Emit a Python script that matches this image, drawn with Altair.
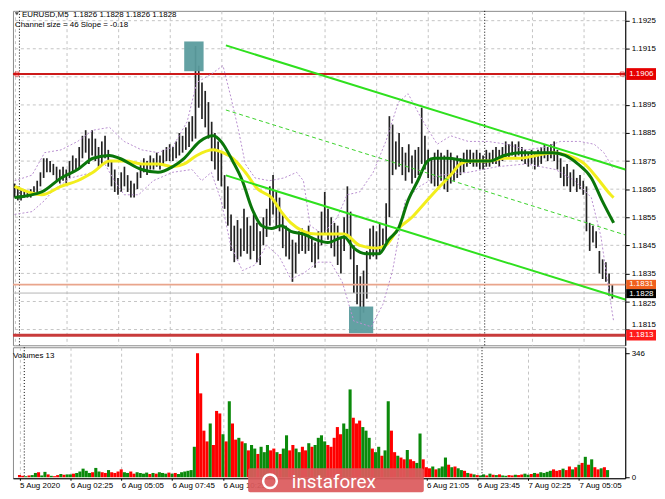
import json
import altair as alt
import pandas as pd

# ---------------- data ----------------
bar_minute = list(range(0, 1860, 10))  # 10-minute bars from 5 Aug 23:45

bar_high = [
    1.1867, 1.1866, 1.1865, 1.1865, 1.1864, 1.1865, 1.1866, 1.1868, 1.1871, 1.1876,
    1.1876, 1.1875, 1.1874, 1.1873, 1.1872, 1.1873, 1.1872, 1.1875, 1.1877, 1.1876,
    1.1880, 1.1884, 1.1886, 1.1883, 1.1886, 1.1883, 1.1880, 1.1882, 1.1884, 1.1879,
    1.1875, 1.1872, 1.1869, 1.1871, 1.1873, 1.1870, 1.1868, 1.1867, 1.1871, 1.1874,
    1.1876, 1.1875, 1.1877, 1.1876, 1.1878, 1.1877, 1.1879, 1.1880, 1.1881, 1.1880,
    1.1882, 1.1885, 1.1884, 1.1887, 1.1889, 1.1891, 1.1916, 1.1909, 1.1903, 1.1900,
    1.1896, 1.1889, 1.1885, 1.1882, 1.1878, 1.1870, 1.1866, 1.1856, 1.1852, 1.1854,
    1.1851, 1.1858, 1.1855, 1.1852, 1.1856, 1.1853, 1.1850, 1.1855, 1.1858, 1.1866,
    1.1870, 1.1864, 1.1862, 1.1856, 1.1852, 1.1850, 1.1847, 1.1846, 1.1850, 1.1851,
    1.1849, 1.1852, 1.1848, 1.1846, 1.1850, 1.1857, 1.1864, 1.1858, 1.1855, 1.1853,
    1.1852, 1.1848, 1.1855, 1.1866, 1.1857, 1.1845, 1.1838, 1.1834, 1.1836, 1.1843,
    1.1851, 1.1852, 1.1850, 1.1853, 1.1851, 1.1860, 1.1891, 1.1888, 1.1882, 1.1885,
    1.1880, 1.1878, 1.1881, 1.1877, 1.1879, 1.1880, 1.1894, 1.1884, 1.1879, 1.1876,
    1.1878, 1.1879, 1.1878, 1.1877, 1.1879, 1.1878, 1.1876, 1.1877, 1.1876, 1.1878,
    1.1879, 1.1879, 1.1878, 1.1879, 1.1878, 1.1877, 1.1879, 1.1878, 1.1879, 1.1880,
    1.1879, 1.1880, 1.1882, 1.1881, 1.1882, 1.1881, 1.1882, 1.1880, 1.1879, 1.1878,
    1.1879, 1.1878, 1.1879, 1.1880, 1.1881, 1.1880, 1.1881, 1.1882, 1.1879, 1.1876,
    1.1873, 1.1874, 1.1871, 1.1872, 1.1869, 1.1870, 1.1868, 1.1866, 1.1853, 1.1852,
    1.1850, 1.1843, 1.1840, 1.1839, 1.1835, 1.1831,
]

bar_low = [
    1.1862, 1.1861, 1.1861, 1.1862, 1.1862, 1.1862, 1.1863, 1.1864, 1.1866, 1.1869,
    1.1871, 1.1871, 1.1870, 1.1868, 1.1867, 1.1868, 1.1867, 1.1869, 1.1871, 1.1872,
    1.1872, 1.1876, 1.1878, 1.1874, 1.1877, 1.1875, 1.1873, 1.1874, 1.1876, 1.1873,
    1.1866, 1.1864, 1.1863, 1.1864, 1.1866, 1.1864, 1.1862, 1.1862, 1.1865, 1.1869,
    1.1871, 1.1870, 1.1872, 1.1872, 1.1873, 1.1872, 1.1874, 1.1875, 1.1875, 1.1875,
    1.1876, 1.1877, 1.1878, 1.1879, 1.1880, 1.1882, 1.1883, 1.1894, 1.1890, 1.1887,
    1.1883, 1.1875, 1.1872, 1.1868, 1.1866, 1.1858, 1.1852, 1.1843, 1.1839, 1.1840,
    1.1841, 1.1843, 1.1842, 1.1840, 1.1843, 1.1839, 1.1838, 1.1845, 1.1848, 1.1852,
    1.1856, 1.1851, 1.1850, 1.1844, 1.1841, 1.1840, 1.1832, 1.1835, 1.1842, 1.1843,
    1.1842, 1.1843, 1.1839, 1.1837, 1.1840, 1.1845, 1.1849, 1.1847, 1.1844, 1.1841,
    1.1838, 1.1835, 1.1843, 1.1848, 1.1840, 1.1828, 1.1824, 1.1818, 1.1821, 1.1826,
    1.1840, 1.1841, 1.1840, 1.1842, 1.1843, 1.1846, 1.1855, 1.1870, 1.1872, 1.1873,
    1.1870, 1.1868, 1.1871, 1.1867, 1.1869, 1.1870, 1.1874, 1.1872, 1.1869, 1.1867,
    1.1866, 1.1866, 1.1868, 1.1865, 1.1864, 1.1867, 1.1868, 1.1869, 1.1870, 1.1871,
    1.1873, 1.1874, 1.1873, 1.1873, 1.1872, 1.1872, 1.1873, 1.1873, 1.1874, 1.1874,
    1.1873, 1.1875, 1.1876, 1.1876, 1.1877, 1.1876, 1.1877, 1.1875, 1.1874, 1.1873,
    1.1874, 1.1872, 1.1873, 1.1874, 1.1876, 1.1875, 1.1876, 1.1875, 1.1872, 1.1869,
    1.1866, 1.1866, 1.1864, 1.1866, 1.1864, 1.1865, 1.1863, 1.1850, 1.1843, 1.1846,
    1.1844, 1.1835, 1.1833, 1.1832, 1.1827, 1.1826,
]

volumes = [
    6, 4, 3, 5, 6, 12, 14, 5, 15, 8, 4, 3, 6, 9, 7, 8,
    8, 10, 12, 16, 24, 18, 12, 14, 26, 16, 14, 12, 20, 14, 12, 16,
    22, 14, 12, 16, 10, 14, 12, 10, 13, 9, 12, 10, 14, 12, 10, 13,
    10, 12, 9, 14, 16, 18, 20,
    85, 346, 234, 130, 100, 150, 90, 185, 178, 120, 100, 212, 150, 105, 110,
    100, 95, 75, 90, 80, 65, 85, 70, 90, 75, 80, 70, 65, 80, 117, 75,
    90, 80, 70, 85, 75, 95, 85, 90, 110, 117, 100, 90, 85, 110,
    140, 120, 150, 135, 245, 166, 150, 158, 140, 130, 110, 80, 70, 85, 60, 75,
    212, 130, 70, 60, 55, 50, 76, 50, 45, 40, 122, 50,
    28, 25, 30, 22, 25, 30, 55, 35, 28, 30, 25, 20, 18, 12, 10, 8, 6, 5,
    8, 5, 10, 7, 6, 8, 5, 4, 6, 5, 7, 6, 8, 10, 7, 9,
    12, 10, 14, 12, 15, 18, 22, 18, 20, 24, 20, 30, 22, 28, 35, 40,
    57, 35, 50, 28, 22, 25, 28, 20,
]

# g = up-volume bar (green), r = down-volume bar (red)
volume_dir = list(
    "rrgrggrggr" "grrgrggrgg" "gggrggrrgr" "rrrggrrggg" "grgrgggrgr"
    "ggggggrrrr" "grrrgrgrrg" "rgrggrgggr" "rgrggrrggr" "rgrggggrrr"
    "rrgggrrrgg" "grggrggrrg" "rrgrrggrrr" "grgggrgrgg" "rgrgrggrgr"
    "grggrrgrrg" "grgrggggrr" "rgrrgrgrgr" "grrgrg"
)

ma_green_m = [0, 84, 144, 195, 243, 294, 324, 393, 444, 489, 525, 573, 615, 639, 675,
              705, 735, 765, 795, 825, 855, 894, 933, 969, 1020, 1050, 1089, 1128, 1158,
              1188, 1218, 1248, 1278, 1299, 1338, 1410, 1470, 1515, 1563, 1614, 1665,
              1704, 1743, 1785, 1818, 1854]
ma_green_p = [1.1862, 1.1864, 1.1869, 1.1872, 1.1876, 1.1877, 1.1876, 1.1872, 1.1871,
              1.1873, 1.1876, 1.1882, 1.1884, 1.1882, 1.1875, 1.1868, 1.1858, 1.1852,
              1.1851, 1.1852, 1.1850, 1.1849, 1.1847, 1.1846, 1.1848, 1.1844, 1.1842,
              1.1842, 1.1847, 1.1851, 1.1861, 1.1868, 1.1875, 1.1876, 1.1876, 1.1875,
              1.1875, 1.1877, 1.1878, 1.1878, 1.1878, 1.1877, 1.1874, 1.1869, 1.1861,
              1.1853]

ma_yellow_m = [0, 84, 144, 195, 243, 294, 345, 393, 444, 489, 525, 564, 615, 645, 675,
               714, 753, 795, 825, 855, 894, 933, 984, 1020, 1068, 1119, 1149, 1188,
               1230, 1269, 1308, 1350, 1380, 1410, 1470, 1515, 1563, 1614, 1665, 1713,
               1764, 1803, 1845, 1854]
ma_yellow_p = [1.1866, 1.1863, 1.1866, 1.1868, 1.1871, 1.1875, 1.1875, 1.1874, 1.1874,
               1.1873, 1.1874, 1.1877, 1.1879, 1.1878, 1.1876, 1.1871, 1.1865, 1.1862,
               1.1857, 1.1853, 1.1850, 1.1849, 1.1849, 1.1849, 1.1845, 1.1844, 1.1845,
               1.1851, 1.1855, 1.1860, 1.1865, 1.1870, 1.1874, 1.1875, 1.1875, 1.1876,
               1.1876, 1.1877, 1.1878, 1.1877, 1.1874, 1.1869, 1.1863, 1.1862]

env_upper_m = [0, 54, 93, 144, 195, 243, 294, 339, 393, 444, 489, 534, 564, 609, 645,
               669, 693, 714, 744, 789, 834, 873, 894, 915, 954, 999, 1029, 1068, 1110,
               1149, 1188, 1218, 1260, 1308, 1350, 1404, 1464, 1524, 1584, 1644, 1689,
               1749, 1794, 1824, 1854]
env_upper_p = [1.1868, 1.1870, 1.1878, 1.1879, 1.1882, 1.1886, 1.1887, 1.1882, 1.1879,
               1.1878, 1.1880, 1.1889, 1.1903, 1.1906, 1.1909, 1.1898, 1.1886, 1.1874,
               1.1869, 1.1868, 1.1869, 1.1871, 1.1868, 1.1852, 1.1849, 1.1855, 1.1863,
               1.1864, 1.1871, 1.1882, 1.1896, 1.1899, 1.1890, 1.1881, 1.1884, 1.1882,
               1.1882, 1.1881, 1.1879, 1.1880, 1.1882, 1.1882, 1.1881, 1.1878, 1.1872]

env_lower_m = [0, 54, 93, 123, 174, 243, 279, 309, 339, 384, 429, 489, 549, 579, 609,
               639, 669, 705, 744, 780, 819, 855, 894, 939, 978, 1014, 1050, 1104, 1140,
               1170, 1209, 1254, 1314, 1404, 1494, 1584, 1674, 1734, 1785, 1815, 1839,
               1854]
env_lower_p = [1.1856, 1.1857, 1.1861, 1.1865, 1.1869, 1.1871, 1.1874, 1.1868, 1.1863,
               1.1863, 1.1868, 1.1871, 1.1872, 1.1868, 1.1871, 1.1861, 1.1845, 1.1836,
               1.1838, 1.1845, 1.1841, 1.1833, 1.1835, 1.1839, 1.1839, 1.1832, 1.1818,
               1.1816, 1.1824, 1.1836, 1.1861, 1.1866, 1.1870, 1.1871, 1.1873, 1.1874,
               1.1872, 1.1868, 1.1862, 1.1848, 1.1829, 1.1818]

channel_names = ["upper", "upper", "middle", "middle", "lower", "lower"]
channel_m = [654, 1890, 654, 1890, 654, 1890]
channel_p = [1.19162, 1.18720, 1.18932, 1.18487, 1.18699, 1.18257]

zone_m0 = [525, 1035]
zone_m1 = [585, 1110]
zone_p0 = [1.19070, 1.18137]
zone_p1 = [1.19176, 1.18232]

level_price = [1.1906, 1.1831, 1.1828, 1.1813]
level_label = ["1.1906", "1.1831", "1.1828", "1.1813"]
level_line_color = ["#cc1a1a", "#e9a58c", "#b4b4b4", "#c83a3a"]
level_line_width = [2, 2, 1, 3]
level_box_color = ["#e60000", "#f0601e", "#000000", "#ff1a1a"]
# price-label boxes on the right axis (top and bottom edges, in price units)
level_box_hi = [1.19081, 1.18327, 1.18294, 1.18149]
level_box_lo = [1.19039, 1.18294, 1.18262, 1.18111]

day_separator_m = [15, 1455]

tick_minutes = [0, 160, 320, 480, 640, 800, 960, 1120, 1280, 1440, 1600, 1760]
tick_labels = ["5 Aug 2020", "6 Aug 02:25", "6 Aug 05:05", "6 Aug 07:45",
               "6 Aug 10:25", "6 Aug 13:05", "6 Aug 15:45", "6 Aug 18:25",
               "6 Aug 21:05", "6 Aug 23:45", "7 Aug 02:25", "7 Aug 05:05"]
# these three time labels sit behind the watermark in the reference
labels_under_logo = ["6 Aug 13:05", "6 Aug 15:45", "6 Aug 18:25"]
price_ticks = [1.1815, 1.1825, 1.1835, 1.1845, 1.1855, 1.1865, 1.1875, 1.1885,
               1.1895, 1.1915, 1.1925]
price_grid = [1.1815, 1.1825, 1.1835, 1.1845, 1.1855, 1.1865, 1.1875, 1.1885,
              1.1895, 1.1905, 1.1915, 1.1925]
volume_ticks = [0, 346]

header_text = "EURUSD,M5\u00a0\u00a01.1826 1.1828 1.1826 1.1828"
channel_text = "Channel size = 46 Slope = -0.18"
volume_text = "Volumes 13"

# ---------------- layout / style ----------------
W, H1, H2 = 617, 337, 132
FONT = "Liberation Sans"
GRID = "#c4c4c4"
xs = alt.Scale(domain=[-5, 1890], nice=False, zero=False)
ps = alt.Scale(domain=[1.18094, 1.19285], nice=False, zero=False)
vs = alt.Scale(domain=[-2.8, 362.6], nice=False, zero=False)

bars_df = pd.DataFrame({"m": bar_minute, "high": bar_high, "low": bar_low})
vol_df = pd.DataFrame({"m": bar_minute, "vol": volumes, "dir": volume_dir})
vol_df["zero"] = 0
green_df = pd.DataFrame({"m": ma_green_m, "p": ma_green_p})
yellow_df = pd.DataFrame({"m": ma_yellow_m, "p": ma_yellow_p})
env_df = pd.concat([
    pd.DataFrame({"m": env_upper_m, "p": env_upper_p, "band": "upper"}),
    pd.DataFrame({"m": env_lower_m, "p": env_lower_p, "band": "lower"}),
])
chan_df = pd.DataFrame({"name": channel_names, "m": channel_m, "p": channel_p})
zone_df = pd.DataFrame({"m0": zone_m0, "m1": zone_m1, "p0": zone_p0, "p1": zone_p1})
lvl_df = pd.DataFrame({"price": level_price, "label": level_label,
                       "lc": level_line_color, "lw": level_line_width,
                       "bc": level_box_color, "hi": level_box_hi, "lo": level_box_lo})
lvl_df["mid"] = (lvl_df["hi"] + lvl_df["lo"]) / 2
grid_df = pd.DataFrame({"p": price_grid})
sep_df = pd.DataFrame({"m": day_separator_m})
one = pd.DataFrame({"k": [0]})

label_expr = (
    "indexof(" + json.dumps(labels_under_logo) + ", "
    + json.dumps(tick_labels) + "[round(datum.value / 160)]) >= 0 ? '' : "
    + json.dumps(tick_labels) + "[round(datum.value / 160)]"
)

top_x_axis = alt.Axis(values=tick_minutes, grid=True, gridDash=[3, 3], gridColor=GRID,
                      labels=False, ticks=False, domain=False, title=None)
price_axis = alt.Axis(orient="right", values=price_ticks, format=".4f", grid=False,
                      tickSize=4, tickColor="#000",
                      domainColor="#000", labelFont=FONT, labelFontSize=8,
                      labelColor="#000", labelPadding=2, title=None,
                      labelOffset={"condition": [
                          {"test": "datum.value < 1.1816", "value": -5},
                          {"test": "datum.value > 1.1824 && datum.value < 1.1826", "value": 2},
                      ], "value": 0})
bottom_x_axis = alt.Axis(values=tick_minutes, labelExpr=label_expr, grid=True,
                         gridDash=[3, 3], gridColor=GRID, labelAlign="left",
                         labelFlush=False, labelOverlap=False, labelFont=FONT,
                         labelFontSize=8, labelColor="#000", tickSize=2,
                         tickColor="#000", domainColor="#000", labelPadding=1,
                         title=None)
vol_axis = alt.Axis(orient="right", values=volume_ticks, grid=False, tickSize=4,
                    tickColor="#000", domainColor="#000", labelFont=FONT,
                    labelFontSize=8, labelColor="#000", labelPadding=2, title=None)


def TX(field):
    return alt.X(field, scale=xs, axis=top_x_axis)


def TY(field):
    return alt.Y(field, scale=ps, axis=price_axis)


def BX(field):
    return alt.X(field, scale=xs, axis=bottom_x_axis)


# ---------------- top (price) panel ----------------
hgrid = alt.Chart(grid_df).mark_rule(color=GRID, strokeDash=[3, 3], strokeWidth=1).encode(
    y=TY("p:Q")
)

bars = alt.Chart(bars_df).mark_rule(color="#222222", strokeWidth=1.7).encode(
    x=TX("m:Q"), y=TY("low:Q"), y2="high:Q",
)

zones = alt.Chart(zone_df).mark_rect(color="#5b9c9e", opacity=0.95).encode(
    x=TX("m0:Q"), x2="m1:Q", y=TY("p0:Q"), y2="p1:Q",
)

seps_top = alt.Chart(sep_df).mark_rule(color="#000", strokeDash=[1, 2], strokeWidth=1).encode(
    x=TX("m:Q")
)

levels = alt.Chart(lvl_df).mark_rule().encode(
    y=TY("price:Q"),
    color=alt.Color("lc:N", scale=None),
    strokeWidth=alt.StrokeWidth("lw:Q", scale=None),
)

envelopes = alt.Chart(env_df).mark_line(color="#b88fd0", strokeDash=[2, 2], strokeWidth=1).encode(
    x=TX("m:Q"), y=TY("p:Q"), detail="band:N",
)

chan_solid = alt.Chart(chan_df).transform_filter("datum.name != 'middle'").mark_line(
    color="#2fe01e", strokeWidth=2).encode(
    x=TX("m:Q"), y=TY("p:Q"), detail="name:N",
)
chan_mid = alt.Chart(chan_df).transform_filter("datum.name == 'middle'").mark_line(
    color="#3ad22a", strokeWidth=1, strokeDash=[4, 3]).encode(
    x=TX("m:Q"), y=TY("p:Q"),
)

yellow = alt.Chart(yellow_df).mark_line(color="#f2ee1c", strokeWidth=3, interpolate="monotone").encode(
    x=TX("m:Q"), y=TY("p:Q")
)
green = alt.Chart(green_df).mark_line(color="#0a760a", strokeWidth=3, interpolate="monotone").encode(
    x=TX("m:Q"), y=TY("p:Q")
)

boxes = alt.Chart(lvl_df).mark_rect().encode(
    x=alt.value(W + 1), x2=alt.value(W + 31),
    y=TY("lo:Q"), y2="hi:Q",
    color=alt.Color("bc:N", scale=None),
)
box_text = alt.Chart(lvl_df).mark_text(align="left", baseline="middle", font=FONT,
                                        fontSize=8, color="white").encode(
    x=alt.value(W + 4), y=TY("mid:Q"), text="label:N"
)

sq_left = alt.Chart(lvl_df).transform_filter("datum.label == '1.1906'").mark_point(
    shape="square", size=16, filled=False, color="#e00000", strokeWidth=1).encode(
    x=alt.value(4), y=TY("price:Q")
)
sq_right = alt.Chart(lvl_df).transform_filter("datum.label == '1.1906'").mark_point(
    shape="square", size=16, filled=False, color="#e00000", strokeWidth=1).encode(
    x=alt.value(W - 3), y=TY("price:Q")
)

tri = alt.Chart(one).mark_point(shape="triangle-down", filled=True, color="#000", size=14).encode(
    x=alt.value(4), y=alt.value(3)
)
head1 = alt.Chart(one).mark_text(align="left", baseline="alphabetic", font=FONT,
                                  fontSize=8, color="#000").encode(
    x=alt.value(9), y=alt.value(6), text=alt.value(header_text)
)
head2 = alt.Chart(one).mark_text(align="left", baseline="alphabetic", font=FONT,
                                  fontSize=8, color="#000").encode(
    x=alt.value(2), y=alt.value(16), text=alt.value(channel_text)
)

top = alt.layer(
    hgrid, bars, zones, seps_top, levels, envelopes, yellow, green,
    chan_mid, chan_solid, boxes, box_text, sq_left, sq_right, tri, head1, head2,
).properties(width=W, height=H1)

# ---------------- bottom (volume) panel ----------------
vol_bars = alt.Chart(vol_df).mark_bar(size=3.1).encode(
    x=BX("m:Q"),
    y=alt.Y("vol:Q", scale=vs, axis=vol_axis),
    y2="zero:Q",
    color=alt.Color("dir:N", scale=alt.Scale(domain=["g", "r"], range=["#0b8a0b", "#ff0000"]),
                    legend=None),
)
seps_bot = alt.Chart(sep_df).mark_rule(color="#000", strokeDash=[1, 2], strokeWidth=1).encode(
    x=BX("m:Q")
)
vol_label = alt.Chart(one).mark_text(align="left", baseline="alphabetic", font=FONT,
                                      fontSize=8, color="#000").encode(
    x=alt.value(0), y=alt.value(11), text=alt.value(volume_text)
)
logo_rect = alt.Chart(one).mark_rect(color="#dc5a5c", opacity=0.93, cornerRadius=2).encode(
    x=alt.value(237), x2=alt.value(414), y=alt.value(122), y2=alt.value(146)
)
logo_icon = alt.Chart(one).mark_point(shape="circle", filled=False, color="white",
                                      strokeWidth=2.5, size=190, opacity=1).encode(
    x=alt.value(259), y=alt.value(135)
)
logo_text = alt.Chart(one).mark_text(align="left", baseline="bottom", font="Roboto",
                                      fontSize=19, color="white").encode(
    x=alt.value(281), y=alt.value(146), text=alt.value("instaforex")
)

bottom = alt.layer(vol_bars, seps_bot, vol_label, logo_rect, logo_icon, logo_text).properties(
    width=W, height=H2
)

chart = alt.vconcat(top, bottom, spacing=0).properties(
    padding={"left": 0, "top": 0, "right": 0, "bottom": 0}
).configure(font=FONT).configure_view(stroke="#8a8a8a", strokeWidth=1)

chart.save("out.html", embed_options={"renderer": "svg", "actions": False})
